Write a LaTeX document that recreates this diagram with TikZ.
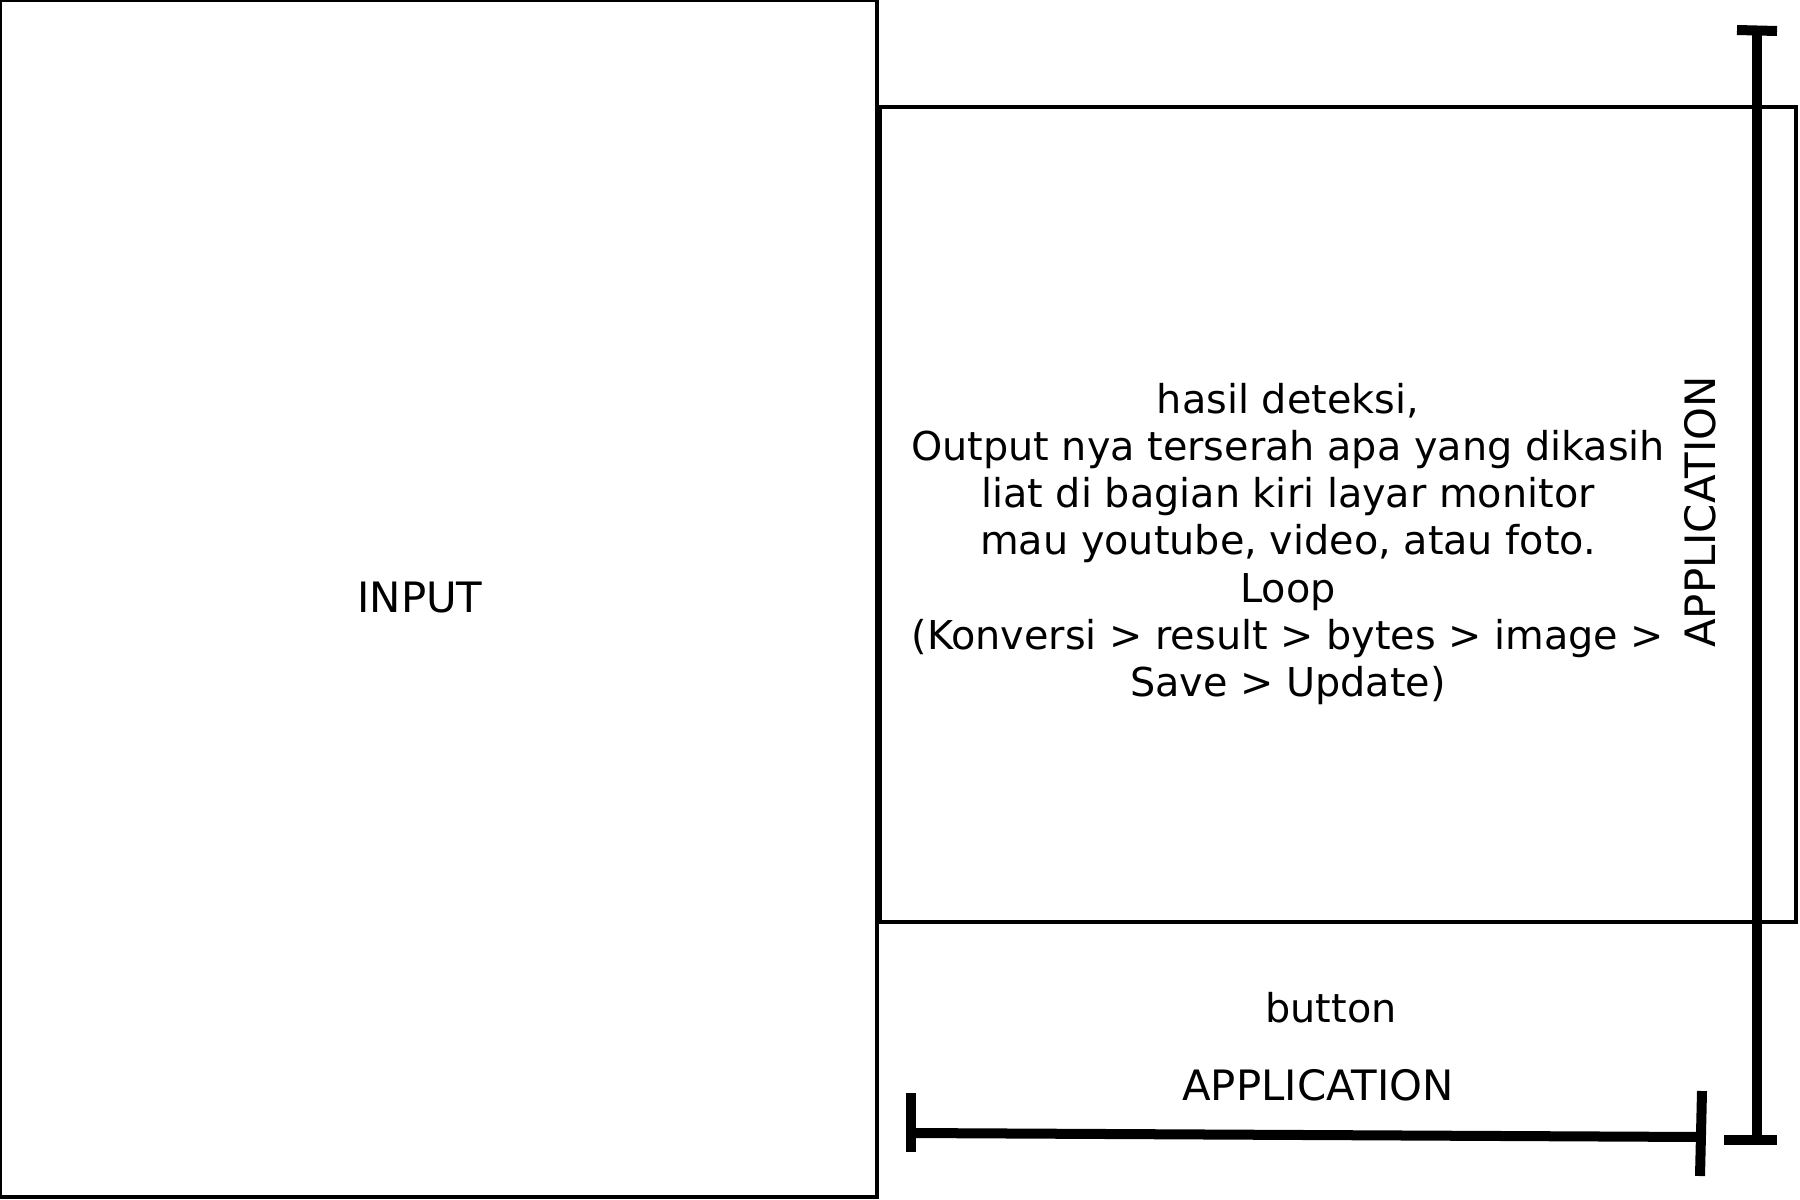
\documentclass[tikz,border=0pt]{standalone}
\usepackage{fontspec}
\setmainfont{DejaVu Sans}
\usetikzlibrary{positioning}

\tikzset{
    panel/.style={draw=black, line width=0.04cm},
    dimline/.style={draw=black, line width=0.1cm, line cap=butt},
    lbl/.style={font=\fontsize{11.3}{13.4}\selectfont, inner sep=0pt, align=center},
    caps/.style={lbl, font=\fontsize{11.9}{13.4}\selectfont}
}

\begin{document}
\begin{tikzpicture}[x=0.01cm, y=-0.01cm]
    \useasboundingbox (0,0) rectangle (1800,1200);

    % screens
    \draw[panel] (0,0) rectangle (877,1197);
    \draw[panel] (880,107) rectangle (1796,921.5);

    % texts
    \node[caps, anchor=base] (input) at (420,612) {INPUT};
    \node[lbl] (hasil) at (1288,544) {hasil deteksi,\\
        Output nya terserah apa yang dikasih\\
        liat di bagian kiri layar monitor\\
        mau youtube, video, atau foto.\\
        Loop\\
        (Konversi > result > bytes > image >\\
        Save > Update)};
    \node[lbl, anchor=base] (button) at (1331,1022) {button};
    \node[caps, anchor=base] (apph) at (1318,1100) {APPLICATION};
    \node[caps, anchor=base, rotate=90] (appv) at (1715,512) {APPLICATION};

    % horizontal dimension
    \coordinate (hl) at (911,1133);
    \coordinate (hr) at (1701,1137);
    \coordinate (hlt) at (911,1093);
    \coordinate (hlb) at (911,1152);
    \coordinate (hrt) at (1702,1091);
    \coordinate (hrb) at (1700,1176);
    \draw[dimline] (hl) -- (hr);
    \draw[dimline] (hlt) -- (hlb);
    \draw[dimline] (hrt) -- (hrb);

    % vertical dimension
    \coordinate (vt) at (1757,30);
    \coordinate (vb) at (1757,1140);
    \coordinate (vtl) at (1737,30);
    \coordinate (vtr) at (1777,31);
    \coordinate (vbl) at (1724,1140);
    \coordinate (vbr) at (1777,1140);
    \draw[dimline] (vt) -- (vb);
    \draw[dimline] (vtl) -- (vtr);
    \draw[dimline] (vbl) -- (vbr);
\end{tikzpicture}
\end{document}
